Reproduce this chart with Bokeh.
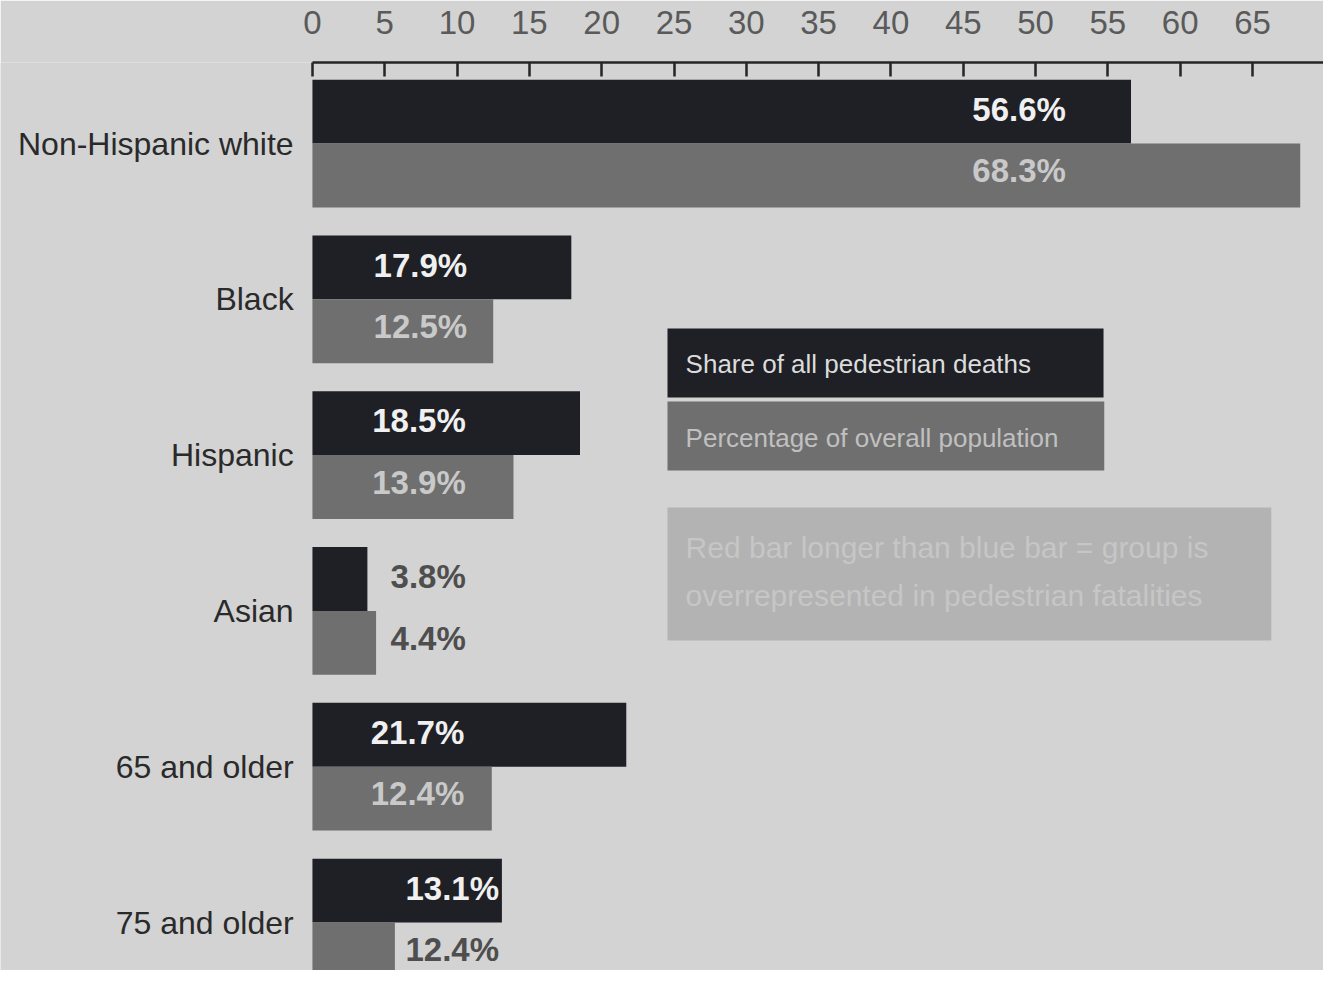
from bokeh.plotting import figure
from bokeh.models import Range1d, FixedTicker, ColumnDataSource, BoxAnnotation, Label
from bokeh.core.properties import value
from bokeh.embed import file_html
from bokeh.resources import INLINE

# ---- data ----
groups = ["Non-Hispanic white", "Black", "Hispanic", "Asian", "65 and older", "75 and older"]
deaths_pct = [56.6, 17.9, 18.5, 3.8, 21.7, 13.1]          # share of all pedestrian deaths
population_pct = [68.3, 12.5, 13.9, 4.4, 12.4, 12.4]     # percentage of overall population
population_bar = [68.3, 12.5, 13.9, 4.4, 12.4, 5.7]      # population bar lengths as printed
tick_values = list(range(0, 70, 5))
legend_labels = ["Share of all pedestrian deaths", "Percentage of overall population"]
note_lines = ["Red bar longer than blue bar = group is", "overrepresented in pedestrian fatalities"]

# ---- style ----
BG = "#d3d3d3"
DARK = "#1e2025"
GRAY = "#6f6f6f"
FONT = "Liberation Sans"

label_right = [52.1, 10.7, 10.6, 10.6, 10.5, 12.9]   # right edge of value labels
BAR_H = 0.41
OFF = 0.205
LAB_SHIFT = 0.03

idx = list(range(len(groups)))
dark_y = [i - OFF for i in idx]
gray_y = [i + OFF for i in idx]

dark_col = ["#f0f0f0" if d >= r else "#4e4e4e" for d, r in zip(deaths_pct, label_right)]
gray_col = ["#c9c9c9" if b >= r else "#4e4e4e" for b, r in zip(population_bar, label_right)]

src = ColumnDataSource(dict(
    group=groups, i=idx, dy=dark_y, gy=gray_y,
    dly=[y - LAB_SHIFT / 2 for y in dark_y], gly=[y - LAB_SHIFT for y in gray_y],
    deaths=deaths_pct, pop=population_bar,
    dlab=[f"{v}%" for v in deaths_pct], glab=[f"{v}%" for v in population_pct],
    lx=label_right, dcol=dark_col, gcol=gray_col,
))

p = figure(width=1323, height=970, output_backend="svg", toolbar_location=None,
           x_range=Range1d(-21.57, 69.91), y_range=Range1d(5.308, -0.52),
           x_axis_location="above", min_border=0, min_border_top=62,
           background_fill_color=BG, border_fill_color=BG, outline_line_color=None)
p.grid.visible = False
p.yaxis.visible = False

ax = p.xaxis[0]
ax.ticker = FixedTicker(ticks=tick_values)
ax.bounds = (0, 80)
ax.axis_line_color = "#252525"
ax.axis_line_width = 2.5
ax.major_tick_line_color = "#252525"
ax.major_tick_line_width = 2.5
ax.major_tick_in = 14
ax.major_tick_out = 0
ax.minor_tick_line_color = None
ax.major_label_text_font = FONT
ax.major_label_text_font_size = "33px"
ax.major_label_text_color = "#5a5a5a"
ax.major_label_standoff = 29

p.hbar(y="dy", left=0, right="deaths", height=BAR_H, source=src, fill_color=DARK, line_color=None)
p.hbar(y="gy", left=0, right="pop", height=BAR_H, source=src, fill_color=GRAY, line_color=None)

p.text(x="lx", y="dly", text="dlab", source=src, text_align="right", text_baseline="middle",
       text_font=value(FONT), text_font_style="bold", text_font_size="33px", text_color="dcol")
p.text(x="lx", y="gly", text="glab", source=src, text_align="right", text_baseline="middle",
       text_font=value(FONT), text_font_style="bold", text_font_size="33px", text_color="gcol")

p.text(x=-1.3, y="i", text="group", source=src, text_align="right", text_baseline="middle",
       text_font=value(FONT), text_font_size="32px", text_color="#2a2a2a")

# legend boxes
p.add_layout(BoxAnnotation(left=24.55, right=54.7, top=1.187, bottom=1.630,
                           fill_color=DARK, fill_alpha=1, line_color=None))
p.add_layout(BoxAnnotation(left=24.55, right=54.75, top=1.656, bottom=2.099,
                           fill_color=GRAY, fill_alpha=1, line_color=None))
p.add_layout(BoxAnnotation(left=24.55, right=66.3, top=2.336, bottom=3.19,
                           fill_color="#b3b3b3", fill_alpha=1, line_color=None))
for txt, yy, col in [(legend_labels[0], 1.412, "#dcdcdc"), (legend_labels[1], 1.887, "#c0c0c0")]:
    p.add_layout(Label(x=25.8, y=yy, text=txt, text_baseline="middle", text_font=FONT,
                       text_font_size="26px", text_color=col))
for txt, yy in zip(note_lines, [2.593, 2.901]):
    p.add_layout(Label(x=25.8, y=yy, text=txt, text_baseline="middle", text_font=FONT,
                       text_font_size="30px", text_color="#c6c6c6"))

open("out.html", "w").write(file_html(p, INLINE))
